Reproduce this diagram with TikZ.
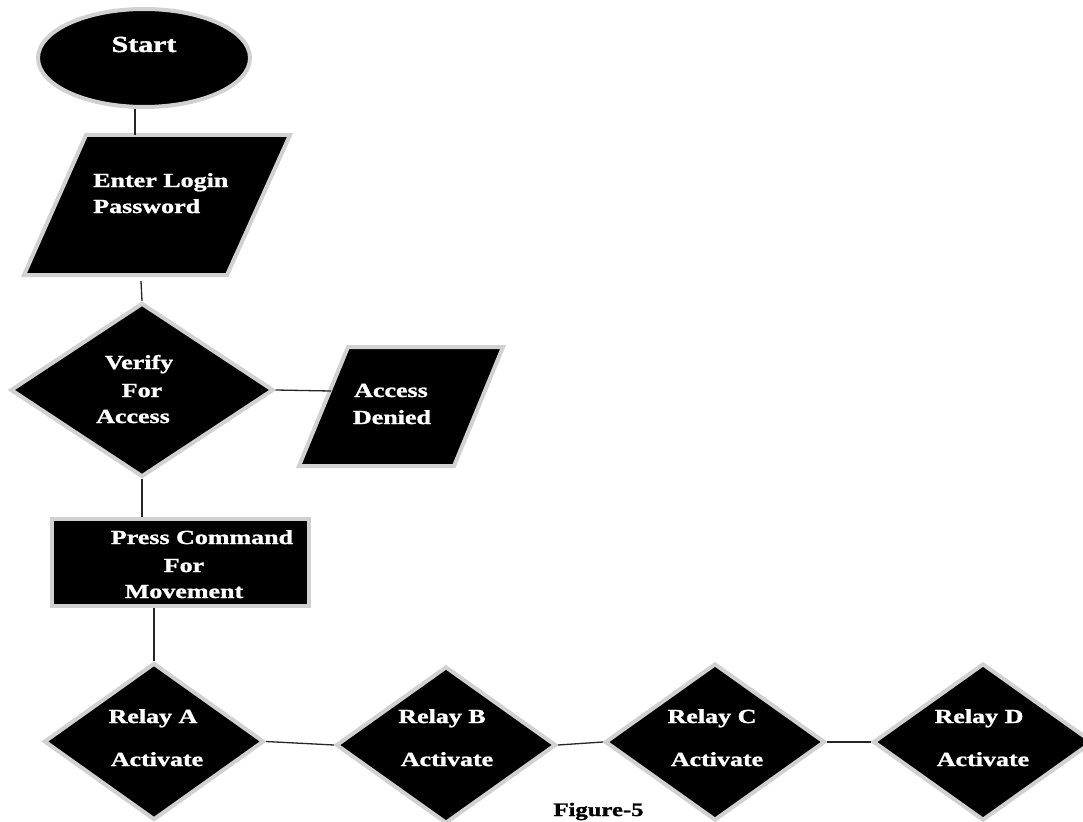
\documentclass[tikz,border=0pt]{standalone}
\usepackage{fontspec}
\setmainfont{Liberation Serif}
\newfontfamily\heavyfont{Liberation Serif}[UprightFont=* Bold, FakeBold=1.2]
\usetikzlibrary{shapes.geometric}
\begin{document}
\begin{tikzpicture}[x=1pt,y=-1pt,
  shp/.style={fill=black, draw=black!18, line width=4pt, line join=miter, inner sep=0pt},
  lab/.style={text=white, font=\heavyfont\fontsize{20}{24}\selectfont, xscale=1.3, inner sep=0pt, anchor=base},
  conn/.style={draw=black!85, line width=1.3pt}]
\useasboundingbox (0,0) rectangle (1083,821);
\clip (0,0) rectangle (1083,821);
\fill[white] (0,0) rectangle (1083,821);

% Start
\node[shp, ellipse, minimum width=212, minimum height=98] (start) at (144,58) {};
\node[lab, font=\heavyfont\fontsize{23}{27}\selectfont] (tstart) at (144,52) {Start};

% Enter login (parallelogram)
\draw[shp] (86,135) -- (290,135) -- (227,275) -- (24,275) -- cycle;
\node[lab, anchor=base west] (tlog1) at (93,187) {Enter Login};
\node[lab, anchor=base west] (tlog2) at (93,213) {Password};
\coordinate (p1t) at (135,135);
\coordinate (p1b) at (141,281);

% Verify
\node[shp, diamond, minimum width=263, minimum height=174] (verify) at (142,390) {};
\node[lab] (tv1) at (139,369) {Verify};
\node[lab] (tv2) at (142,397) {For};
\node[lab] (tv3) at (133,423) {Access};

% Access denied
\draw[shp] (348,347) -- (503,347) -- (454,466) -- (299,466) -- cycle;
\node[lab] (ta1) at (391,397) {Access};
\node[lab] (ta2) at (392,424) {Denied};
\coordinate (adl) at (331,391);

% Press command
\node[shp, rectangle, minimum width=257, minimum height=87] (press) at (180.5,562.5) {};
\node[lab] (tp1) at (202,544) {Press Command};
\node[lab] (tp2) at (184,572) {For};
\node[lab] (tp3) at (184,598) {Movement};

% Relays
\node[shp, diamond, minimum width=220, minimum height=157] (relayA) at (154,741.5) {};
\node[shp, diamond, minimum width=220, minimum height=157] (relayB) at (446,745) {};
\node[shp, diamond, minimum width=220, minimum height=157] (relayC) at (715,742) {};
\node[shp, diamond, minimum width=220, minimum height=157] (relayD) at (983,742) {};
\node[lab] (tra1) at (153,723) {Relay A};
\node[lab] (tra2) at (157,766) {Activate};
\node[lab] (trb1) at (442,723) {Relay B};
\node[lab] (trb2) at (447,766) {Activate};
\node[lab] (trc1) at (712,723) {Relay C};
\node[lab] (trc2) at (717,766) {Activate};
\node[lab] (trd1) at (979,723) {Relay D};
\node[lab] (trd2) at (983,766) {Activate};

% Caption
\node[anchor=base, font=\heavyfont\fontsize{19}{23}\selectfont, xscale=1.3, inner sep=0pt] (cap) at (598.5,816) {Figure-5};

% Connectors
\draw[conn] (start.south -| p1t) -- (p1t);
\draw[conn] (p1b) -- (verify.north);
\draw[conn] (verify.east) -- (adl);
\draw[conn] (verify.south) -- (verify.south |- press.north);
\draw[conn] (relayA.north |- press.south) -- (relayA.north);
\draw[conn] (relayA.east) -- (relayB.west);
\draw[conn] (relayB.east) -- (relayC.west);
\draw[conn] (relayC.east) -- (relayD.west);
\end{tikzpicture}
\end{document}
